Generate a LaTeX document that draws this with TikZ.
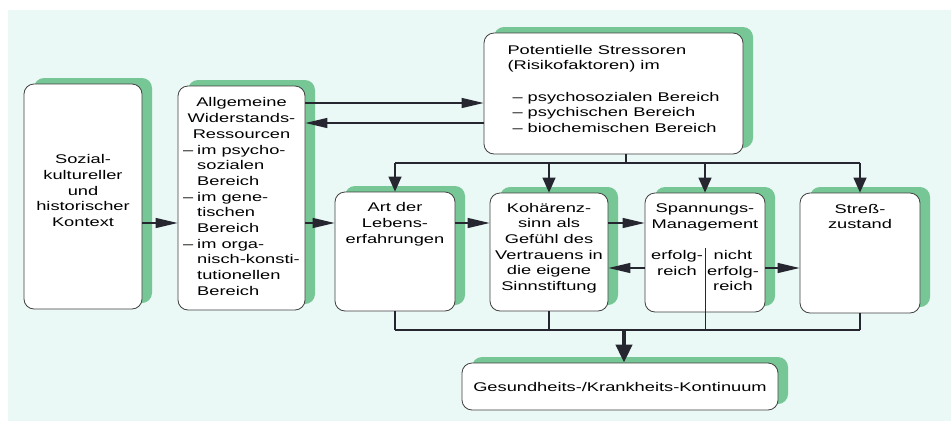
\documentclass[tikz,border=0pt]{standalone}
\usepackage{fontspec}
\setmainfont{Liberation Sans}[FakeStretch=1.45]
\usetikzlibrary{arrows.meta,shadows}

\definecolor{hintergrund}{RGB}{235,249,246}
\definecolor{schatten}{RGB}{118,198,150}
\definecolor{linienfarbe}{RGB}{38,38,48}

\newcommand{\strich}{\makebox[14pt][l]{--}}
\newcommand{\einr}{\hspace*{14pt}}
\newcommand{\zentriert}[1]{\multicolumn{1}{@{}c@{}}{#1}}
\newcommand{\oben}[1]{\parbox[c][98pt][t]{112pt}{\centering #1}}

\begin{document}
\begin{tikzpicture}[
    x=1pt, y=-1pt,
    font=\fontsize{12.6}{15.7}\selectfont,
    kasten/.style={draw=black!75, line width=0.8pt, fill=white, rounded corners=10pt,
        inner xsep=2pt, general shadow={fill=schatten, shadow xshift=10pt, shadow yshift=6pt}},
    linie/.style={draw=linienfarbe, line width=1.3pt},
    hpfeil/.style={linie, -{Triangle[length=22pt,width=10pt]}},
    vpfeil/.style={linie, -{Triangle[length=15pt,width=13pt]}},
    dickpfeil/.style={draw=linienfarbe, line width=4pt, -{Triangle[length=18pt,width=16pt]}},
]

\useasboundingbox (0,0) rectangle (951,421);
\fill[hintergrund] (8,10) rectangle (951,421);

% Kaesten
\node[kasten, minimum width=118pt, minimum height=225pt] (kontext) at (83,196.5)
  {\parbox[c][84pt][t]{112pt}{\centering Sozial-\\kultureller\\und\\historischer\\Kontext}};
\node[kasten, minimum width=127pt, minimum height=224pt] (ressourcen) at (241.5,198) {%
  \begin{tabular}{@{}l@{}}
  \zentriert{Allgemeine}\\
  \zentriert{Widerstands-}\\
  \zentriert{Ressourcen}\\
  \strich im psycho-\\
  \einr sozialen\\
  \einr Bereich\\
  \strich im gene-\\
  \einr tischen\\
  \einr Bereich\\
  \strich im orga-\\
  \einr nisch-konsti-\\
  \einr tutionellen\\
  \einr Bereich
  \end{tabular}};
\node[kasten, minimum width=259pt, minimum height=121pt] (stressoren) at (613.5,93.5)
  {\parbox[c][97pt][t]{218pt}{\raggedright
   \hspace*{3pt}Potentielle Stressoren\\
   \hspace*{3pt}(Risikofaktoren) im\\[15.7pt]
   \hspace*{8pt}-- psychosozialen Bereich\\
   \hspace*{8pt}-- psychischen Bereich\\
   \hspace*{8pt}-- biochemischen Bereich}};
\node[kasten, minimum width=120pt, minimum height=119pt] (lebens) at (395,251.5)
  {\oben{Art der\\Lebens-\\erfahrungen}};
\node[kasten, minimum width=118pt, minimum height=118pt] (kohaerenz) at (549,252)
  {\oben{Kohärenz-\\sinn als\\Gefühl des\\Vertrauens in\\die eigene\\Sinnstiftung}};
\node[kasten, minimum width=120pt, minimum height=119pt] (spannung) at (705,252.5)
  {\oben{Spannungs-\\Management\\[15.7pt]%
   \parbox[t]{56pt}{\centering erfolg-\\reich}%
   \parbox[t]{56pt}{\centering nicht\\erfolg-\\reich}}};
\node[kasten, minimum width=120pt, minimum height=120pt] (stress) at (860,253)
  {\oben{Streß-\\zustand}};
\node[kasten, minimum width=316pt, minimum height=47pt] (gesund) at (620,386.5)
  {Gesundheits-/Krankheits-Kontinuum};

% Hilfspunkte
\coordinate (hin) at (0,103);
\coordinate (her) at (0,123);
\coordinate (mitte) at (0,223);
\coordinate (zurueck) at (0,268);
\coordinate (verteiler) at (626,163);
\coordinate (sammel) at (624,330);
\coordinate (teiler) at (705,248);

% Waagerechte Pfeile
\draw[hpfeil] (kontext.east |- mitte) -- (ressourcen.west |- mitte);
\draw[hpfeil] (ressourcen.east |- mitte) -- (lebens.west |- mitte);
\draw[hpfeil] (lebens.east |- mitte) -- (kohaerenz.west |- mitte);
\draw[hpfeil] (kohaerenz.east |- mitte) -- (spannung.west |- mitte);
\draw[hpfeil] (spannung.west |- zurueck) -- (kohaerenz.east |- zurueck);
\draw[hpfeil] (spannung.east |- zurueck) -- (stress.west |- zurueck);
\draw[hpfeil] (ressourcen.east |- hin) -- (stressoren.west |- hin);
\draw[hpfeil] (stressoren.west |- her) -- (ressourcen.east |- her);

% Verteiler von den Stressoren
\draw[linie] (verteiler |- stressoren.south) -- (verteiler);
\draw[linie] (lebens.north |- verteiler) -- (stress.north |- verteiler);
\foreach \n in {lebens,kohaerenz,spannung,stress}
  \draw[vpfeil] (\n.north |- verteiler) -- (\n.north);

% Sammelleitung zum Kontinuum
\foreach \n in {lebens,kohaerenz,stress}
  \draw[linie] (\n.south) -- (\n.south |- sammel);
\draw[draw=linienfarbe, line width=0.9pt] (teiler) -- (teiler |- sammel);
\draw[linie] (lebens.south |- sammel) -- (stress.south |- sammel);
\draw[dickpfeil] (sammel) -- (sammel |- gesund.north);

\end{tikzpicture}
\end{document}
